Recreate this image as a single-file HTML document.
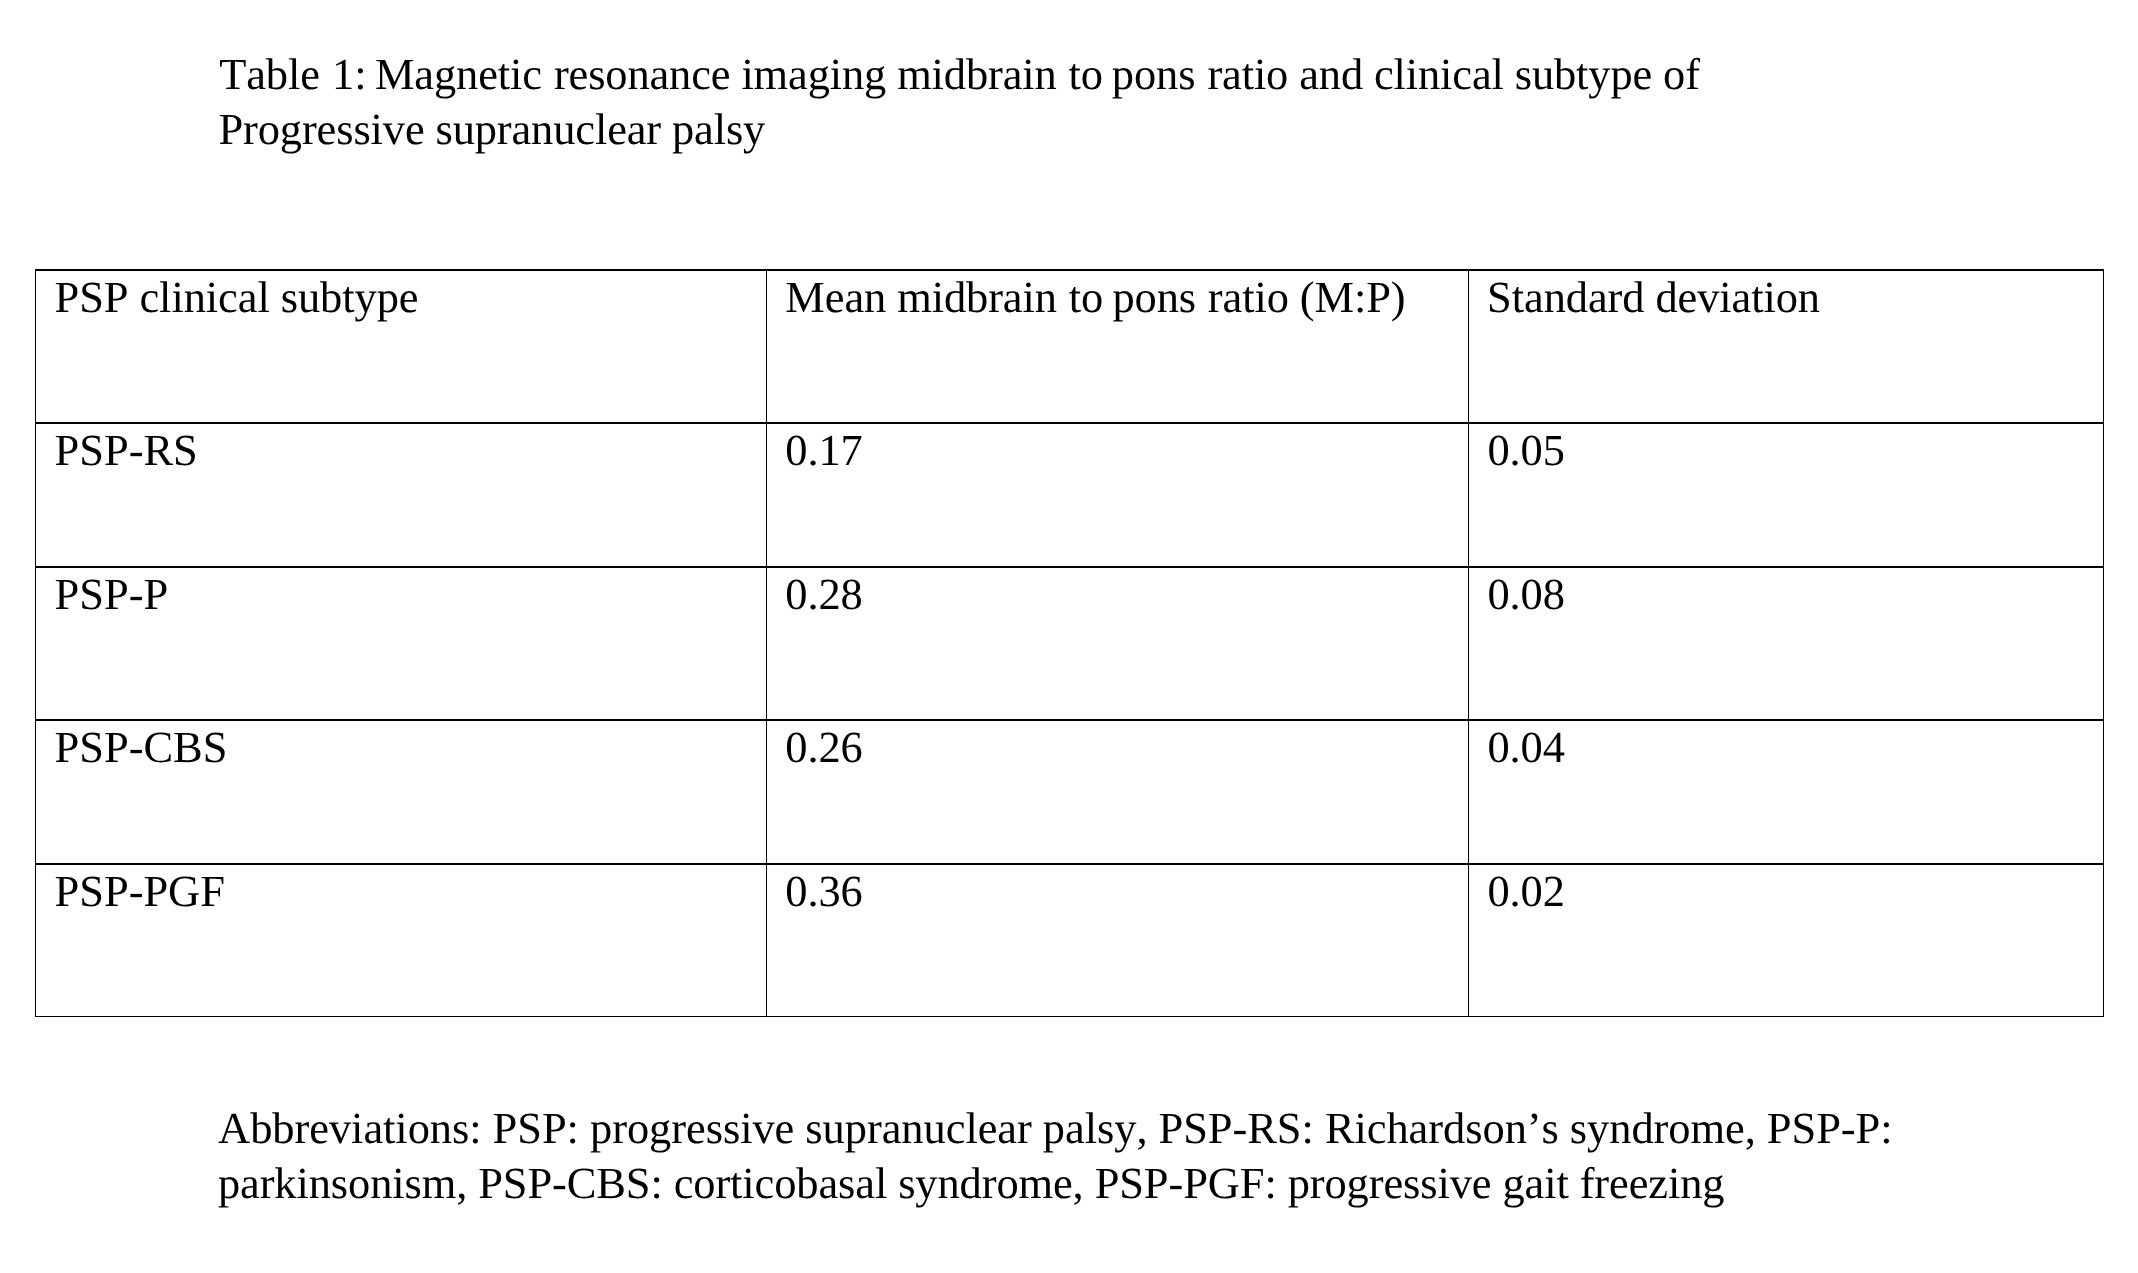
<!DOCTYPE html>
<html lang="en">
<head>
<meta charset="utf-8">
<title>Table 1: Magnetic resonance imaging midbrain to pons ratio and clinical subtype of Progressive supranuclear palsy</title>
<style>
html,body{margin:0;padding:0;background:#fff;}
body{width:2138px;height:1273px;position:relative;overflow:hidden;}
#doc{position:absolute;left:0;top:0;width:2138px;height:1273px;
  font-family:"Liberation Serif","Times New Roman",Times,serif;font-size:44.44px;line-height:50px;color:#000;
  font-weight:400;font-kerning:none;font-variant-ligatures:none;text-rendering:geometricPrecision;
  will-change:transform;}
p{position:absolute;margin:0;padding:0;}
p>span{position:absolute;left:0;top:0;white-space:pre;}
.w{position:relative;}
table{position:absolute;left:35px;top:269px;width:2069px;height:748px;table-layout:fixed;
  border-collapse:separate;border-spacing:0;}
th,td{box-sizing:border-box;margin:0;padding:1px 0 0 0;font-weight:400;text-align:left;vertical-align:top;
  white-space:pre;overflow:hidden;border-top:2px solid #000;border-left:1px solid #000;}
.c1{width:731px;} .c2{width:702px;} .c3{width:636px;border-right:1px solid #000;}
.r1 th{height:153px;} .r2 td{height:144px;} .r3 td{height:153px;} .r4 td{height:144px;}
.r5 td{height:154px;border-bottom:1px solid #000;}
</style>
</head>
<body>
<div id="doc">

<p class="caption" style="left:0;top:49px;width:2138px;height:105px;">
<span style="left:219.20px;top:0;letter-spacing:-0.123px">Table <span class="w" style="left:1.4px">1:</span> <span class="w" style="left:-1.1px">Magnetic</span> resonance imaging midbrain <span class="w" style="left:1.0px">to</span> <span class="w" style="left:-1.1px">pons</span> ratio and clinical subtype of</span>
<span style="left:218.47px;top:55px;letter-spacing:-0.121px">Progressive supranuclear palsy</span>
</p>

<table>
<colgroup><col style="width:731px"><col style="width:702px"><col style="width:636px"></colgroup>
<tr class="r1"><th class="c1" style="padding-left:18.51px;letter-spacing:-0.070px">PSP clinical subtype</th><th class="c2" style="padding-left:18.35px;letter-spacing:-0.094px">Mean midbrain <span class="w" style="left:1.0px">to</span> <span class="w" style="left:-0.8px">pons</span> ratio (M:P)</th><th class="c3" style="padding-left:18.11px;letter-spacing:-0.087px">Standard deviation</th></tr>
<tr class="r2"><td class="c1" style="padding-left:18.60px;letter-spacing:-0.030px">PSP-RS</td><td class="c2" style="padding-left:18.30px;letter-spacing:-0.100px">0.17</td><td class="c3" style="padding-left:18.40px;letter-spacing:-0.100px">0.05</td></tr>
<tr class="r3"><td class="c1" style="padding-left:18.60px;letter-spacing:-0.030px">PSP-P</td><td class="c2" style="padding-left:18.30px;letter-spacing:-0.100px">0.28</td><td class="c3" style="padding-left:18.40px;letter-spacing:-0.100px">0.08</td></tr>
<tr class="r4"><td class="c1" style="padding-left:18.60px;letter-spacing:-0.030px">PSP-CBS</td><td class="c2" style="padding-left:18.30px;letter-spacing:-0.100px">0.26</td><td class="c3" style="padding-left:18.40px;letter-spacing:-0.100px">0.04</td></tr>
<tr class="r5"><td class="c1" style="padding-left:18.60px;letter-spacing:-0.030px">PSP-PGF</td><td class="c2" style="padding-left:18.30px;letter-spacing:-0.100px">0.36</td><td class="c3" style="padding-left:18.40px;letter-spacing:-0.100px">0.02</td></tr>
</table>

<p class="footnote" style="left:0;top:1103px;width:2138px;height:105px;">
<span style="left:218.11px;top:0;letter-spacing:-0.048px">Abbreviations: PSP: progressive supranuclear palsy, PSP-RS: Richardson’s syndrome, PSP-P:</span>
<span style="left:217.91px;top:55px;letter-spacing:-0.100px">parkinsonism, PSP-CBS: corticobasal syndrome, PSP-PGF: progressive gait freezing</span>
</p>

</div>
</body>
</html>
